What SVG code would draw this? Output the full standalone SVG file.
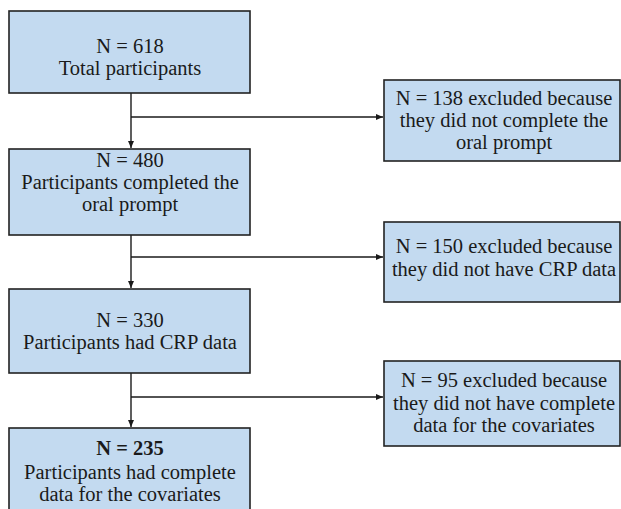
<svg xmlns="http://www.w3.org/2000/svg" width="621" height="509" viewBox="0 0 621 509">
<defs>
<marker id="ah" markerWidth="8" markerHeight="8" refX="7" refY="4" orient="auto" markerUnits="userSpaceOnUse">
<path d="M0,1 L7,4 L0,7 Z" fill="#1a1a1a"/>
</marker>
</defs>
<style>
.box{fill:#c3daf0;stroke:#222;stroke-width:1.6}
.t{font-family:"Liberation Serif","Times New Roman",serif;font-size:20.5px;fill:#1a1a1a;text-anchor:middle}
.b{font-weight:bold}
.c{stroke:#1a1a1a;stroke-width:1.4;fill:none}
</style>
<rect width="621" height="509" fill="#fff"/>
<g id="connectors">
<line class="c" x1="131" y1="93" x2="131" y2="148" marker-end="url(#ah)"/>
<line class="c" x1="131" y1="117" x2="383" y2="117" marker-end="url(#ah)"/>
<line class="c" x1="131" y1="235" x2="131" y2="288" marker-end="url(#ah)"/>
<line class="c" x1="131" y1="257" x2="383" y2="257" marker-end="url(#ah)"/>
<line class="c" x1="131" y1="373" x2="131" y2="427" marker-end="url(#ah)"/>
<line class="c" x1="131" y1="397" x2="383" y2="397" marker-end="url(#ah)"/>
</g>
<g id="n618">
<rect class="box" x="9" y="11" width="241" height="82"/>
<text class="t" x="130" y="53">N = 618</text>
<text class="t" x="130" y="75">Total participants</text>
</g>
<g id="n480">
<rect class="box" x="9" y="149" width="241" height="86"/>
<text class="t" x="130" y="167">N = 480</text>
<text class="t" x="130" y="189">Participants completed the</text>
<text class="t" x="130" y="211">oral prompt</text>
</g>
<g id="n330">
<rect class="box" x="9" y="289" width="241" height="84"/>
<text class="t" x="130" y="327">N = 330</text>
<text class="t" x="130" y="349">Participants had CRP data</text>
</g>
<g id="n235">
<rect class="box" x="9" y="428" width="241" height="95"/>
<text class="t b" x="130" y="455">N = 235</text>
<text class="t" x="130" y="479">Participants had complete</text>
<text class="t" x="130" y="501">data for the covariates</text>
</g>
<g id="ex138">
<rect class="box" x="384" y="80" width="236" height="81"/>
<text class="t" x="504" y="105">N = 138 excluded because</text>
<text class="t" x="504" y="127">they did not complete the</text>
<text class="t" x="504" y="149">oral prompt</text>
</g>
<g id="ex150">
<rect class="box" x="384" y="222" width="236" height="80"/>
<text class="t" x="504" y="253">N = 150 excluded because</text>
<text class="t" x="504" y="276">they did not have CRP data</text>
</g>
<g id="ex95">
<rect class="box" x="384" y="361" width="236" height="85"/>
<text class="t" x="504" y="387">N = 95 excluded because</text>
<text class="t" x="504" y="410">they did not have complete</text>
<text class="t" x="504" y="432">data for the covariates</text>
</g>
</svg>
